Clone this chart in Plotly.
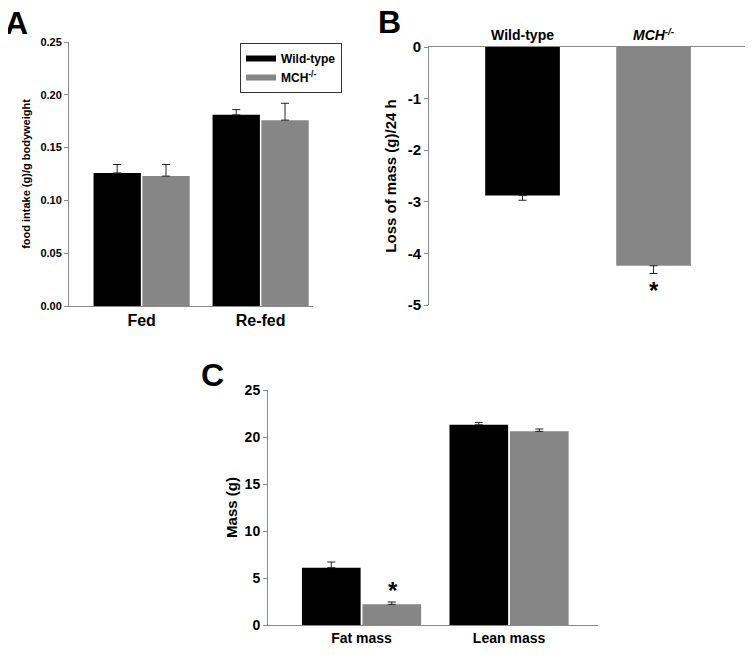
import plotly.graph_objects as go

# ---- data ----
groups = ["Wild-type", "MCH<sup>-/-</sup>"]
a_categories = ["Fed", "Re-fed"]
a_wt = [0.126, 0.181]
a_wt_err = [0.008, 0.005]
a_mch = [0.123, 0.176]
a_mch_err = [0.011, 0.016]

b_categories = ["Wild-type", "<i>MCH<sup>-/-</sup></i>"]
b_values = [-2.88, -4.24]
b_err = [0.09, 0.15]
b_tick_values = [0, -1, -2, -3, -4, -5]
b_tick_labels = ["0", "-1", "-2", "-3", "-4", "-5"]

c_categories = ["Fat mass", "Lean mass"]
c_wt = [6.1, 21.3]
c_wt_err = [0.6, 0.25]
c_mch = [2.2, 20.6]
c_mch_err = [0.25, 0.25]

BLACK = "#000000"
GRAY = "#868686"
AXIS = "#8a8a8a"
FONT = "Liberation Sans, Arial, sans-serif"

# the page body adds an 8 px offset; layout is given in screen pixels
OFF = 8
W, H = 754 - OFF, 655 - OFF
def dx(a, b):
    return [(a - OFF) / W, (b - OFF) / W]
def dy(top, bottom):
    return [1 - (bottom - OFF) / H, 1 - (top - OFF) / H]
def px(x):
    return (x - OFF) / W
def py(y):
    return 1 - (y - OFF) / H

def err(up, down):
    return dict(type="data", symmetric=False, array=up, arrayminus=down,
                color="#222", thickness=1, width=4)

fig = go.Figure()

# Panel A
fig.add_trace(go.Bar(x=a_categories, y=a_wt, name=groups[0], marker_color=BLACK,
                     marker_line_width=0, showlegend=False,
                     error_y=err(a_wt_err, [0] * len(a_wt)),
                     xaxis="x", yaxis="y", offsetgroup="wt"))
fig.add_trace(go.Bar(x=a_categories, y=a_mch, name=groups[1], marker_color=GRAY,
                     marker_line_width=0, showlegend=False,
                     error_y=err(a_mch_err, [0] * len(a_mch)),
                     xaxis="x", yaxis="y", offsetgroup="mch"))
# legend entries (wide swatches like the original)
fig.add_trace(go.Scatter(x=[None], y=[None], mode="lines", name=groups[0],
                         line=dict(color=BLACK, width=6), xaxis="x", yaxis="y"))
fig.add_trace(go.Scatter(x=[None], y=[None], mode="lines", name=groups[1],
                         line=dict(color=GRAY, width=6), xaxis="x", yaxis="y"))

# Panel B
fig.add_trace(go.Bar(x=b_categories, y=b_values, marker_color=[BLACK, GRAY], width=0.57,
                     marker_line_width=0, showlegend=False,
                     error_y=err([0] * len(b_values), b_err),
                     xaxis="x2", yaxis="y2"))

# Panel C
fig.add_trace(go.Bar(x=c_categories, y=c_wt, marker_color=BLACK, showlegend=False,
                     marker_line_width=0, error_y=err(c_wt_err, [0] * len(c_wt)),
                     xaxis="x3", yaxis="y3", offsetgroup="wt"))
fig.add_trace(go.Bar(x=c_categories, y=c_mch, marker_color=GRAY, showlegend=False,
                     marker_line_width=0, error_y=err(c_mch_err, [0] * len(c_mch)),
                     xaxis="x3", yaxis="y3", offsetgroup="mch"))

def yax(size):
    return dict(showgrid=False, zeroline=False, showline=True, linecolor=AXIS, linewidth=1,
                ticks="outside", tickcolor=AXIS, ticklen=4, automargin=False,
                tickfont=dict(family=FONT, size=size, color="#000", weight="bold"))

def xax(size):
    return dict(showgrid=False, zeroline=False, showline=True, linecolor=AXIS, linewidth=1,
                ticks="", automargin=False,
                tickfont=dict(family=FONT, size=size, color="#000", weight="bold"))

fig.update_layout(
    width=W, height=H, margin=dict(l=0, r=0, t=0, b=0, autoexpand=False),
    paper_bgcolor="white", plot_bgcolor="white",
    barmode="group", bargap=0.18, bargroupgap=0.03,
    font=dict(family=FONT, color="#000"),
    xaxis=dict(domain=dx(69, 313), anchor="y", range=[-0.61, 1.44], **xax(16)),
    yaxis=dict(domain=dy(42, 306), anchor="x", range=[0, 0.25], dtick=0.05, tickformat=".2f",
               title=dict(text="food intake (g)/g bodyweight", font=dict(size=11, weight="bold"), standoff=7),
               **yax(11)),
    xaxis2=dict(domain=dx(429, 745), anchor="y2", side="top", range=[-0.714, 1.698], **xax(14)),
    yaxis2=dict(domain=dy(47, 305), anchor="x2", range=[-5, 0],
                tickmode="array", tickvals=b_tick_values, ticktext=b_tick_labels,
                title=dict(text="Loss of mass (g)/24 h", font=dict(size=15, weight="bold"), standoff=7),
                **yax(15)),
    xaxis3=dict(domain=dx(268, 598), anchor="y3", range=[-0.634, 1.603], **xax(14)),
    yaxis3=dict(domain=dy(390, 625), anchor="x3", range=[0, 25], dtick=5,
                title=dict(text="Mass (g)", font=dict(size=15, weight="bold"), standoff=3),
                **yax(14)),
    legend=dict(x=px(240), y=py(43), xanchor="left", yanchor="top",
                bordercolor="#333", borderwidth=1, bgcolor="white",
                font=dict(family=FONT, size=12, weight="bold"), tracegroupgap=0),
)

annotations = [
    dict(text="A", x=px(3), y=py(8), xref="paper", yref="paper", xanchor="left", yanchor="top",
         height=26, showarrow=False, font=dict(size=32, weight="bold")),
    dict(text="B", x=px(376), y=py(8), xref="paper", yref="paper", xanchor="left", yanchor="top",
         height=24, showarrow=False, font=dict(size=32, weight="bold")),
    dict(text="C", x=px(199), y=py(355), xref="paper", yref="paper", xanchor="left", yanchor="top",
         showarrow=False, font=dict(size=32, weight="bold")),
    dict(text="*", x=1, y=-4.72, xref="x2", yref="y2", showarrow=False, font=dict(size=24, weight="bold")),
    dict(text="*", x=0.21, y=3.7, xref="x3", yref="y3", showarrow=False, font=dict(size=24, weight="bold")),
]
fig.update_layout(annotations=annotations)

fig.write_html("out.html")
